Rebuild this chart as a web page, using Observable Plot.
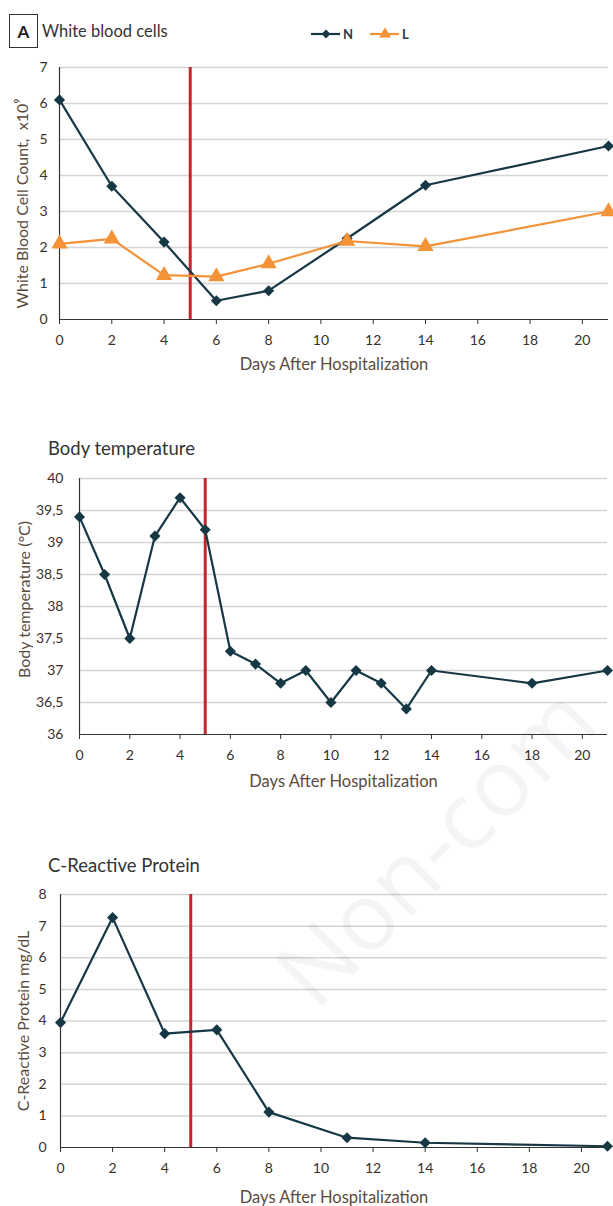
<!DOCTYPE html>
<html><head><meta charset="utf-8">
<script src="https://cdn.jsdelivr.net/npm/d3@7"></script>
<script src="https://cdn.jsdelivr.net/npm/@observablehq/plot@0.6"></script>
<style>
body{margin:0;background:#fff;font-family:Lato,"Open Sans",sans-serif;}
#page{position:relative;width:613px;height:1206px;overflow:hidden;background:#fff;}
.abs{position:absolute;}
.title{color:#333;font-size:18.5px;white-space:nowrap;line-height:1;}
#boxA{left:9px;top:14px;width:27px;height:32px;border:1.5px solid #333;font-weight:bold;font-size:17px;display:flex;align-items:center;justify-content:center;color:#222;}
#wm{left:0;top:0;pointer-events:none;}
</style></head>
<body><div id="page">
<div id="boxA" class="abs">A</div>
<div class="abs title" style="left:42px;top:23px;font-size:16.5px;">White blood cells</div>
<svg class="abs" id="legend" style="left:300px;top:22px;" width="120" height="24"></svg>
<div id="pA" class="abs" style="left:0;top:50px;"></div>
<div class="abs title" style="left:48px;top:439px;">Body temperature</div>
<div id="pB" class="abs" style="left:0;top:460px;"></div>
<div class="abs title" style="left:48px;top:856px;">C-Reactive Protein</div>
<div id="pC" class="abs" style="left:0;top:880px;"></div>
<svg id="wm" class="abs" width="613" height="1206">
  <text x="0" y="0" transform="translate(316,1012) rotate(-45)" font-family="Open Sans" font-size="94" fill="#000" fill-opacity="0.045">Non-com</text>
</svg>
</div>
<script>
// ---- data ----
const wbcDays = [0, 2, 4, 6, 8, 11, 14, 21];
const neutrophils = [6.1, 3.7, 2.15, 0.52, 0.8, 2.25, 3.73, 4.82];
const lymphocytes = [2.1, 2.24, 1.23, 1.19, 1.55, 2.18, 2.03, 3.0];
const tempDays = [0, 1, 2, 3, 4, 5, 6, 7, 8, 9, 10, 11, 12, 13, 14, 18, 21];
const temperature = [39.4, 38.5, 37.5, 39.1, 39.7, 39.2, 37.3, 37.1, 36.8, 37.0, 36.5, 37.0, 36.8, 36.4, 37.0, 36.8, 37.0];
const crpDays = [0, 2, 4, 6, 8, 11, 14, 21];
const crp = [3.95, 7.27, 3.6, 3.72, 1.12, 0.31, 0.15, 0.04];
const dayTicks = [0, 2, 4, 6, 8, 10, 12, 14, 16, 18, 20];
const wbcTicks = [0, 1, 2, 3, 4, 5, 6, 7];
const tempTicks = [36, 36.5, 37, 37.5, 38, 38.5, 39, 39.5, 40];
const crpTicks = [0, 1, 2, 3, 4, 5, 6, 7, 8];
const treatmentDay = [5];
const seriesNames = ["N", "L"];

const dark = "#163845", orange = "#f39237", red = "#c1272d";
const tickColor = "#3a302a", labelColor = "#5b4b3e";
const xLabel = "Days After Hospitalization";

const N = wbcDays.map((d, i) => ({day: d, v: neutrophils[i]}));
const L = wbcDays.map((d, i) => ({day: d, v: lymphocytes[i]}));
const T = tempDays.map((d, i) => ({day: d, v: temperature[i]}));
const C = crpDays.map((d, i) => ({day: d, v: crp[i]}));

function panel({height, mt, mb, ml, mr, yDomain, yTicks, yFmt, yLabel, yLabelOffset, yLabelShift, yPad, xLabelOffset, series}) {
  const marks = [
    Plot.gridY(yTicks.slice(1), {stroke: "#d4d4d4", strokeOpacity: 1, strokeWidth: 1.5}),
    Plot.axisY({ticks: yTicks, tickSize: 0, tickPadding: yPad, tickFormat: yFmt, fill: tickColor, fontSize: 14,
      label: null}),
    Plot.axisX({ticks: dayTicks, tickSize: 5, tickPadding: 11, fill: tickColor, fontSize: 14, stroke: "#333",
      label: null}),
    Plot.text([yLabel], {frameAnchor: "left", textAnchor: "middle", dx: -yLabelOffset, dy: yLabelShift, rotate: -90, fill: labelColor, fontSize: 16, text: d => d}),
    Plot.text([xLabel], {frameAnchor: "bottom", textAnchor: "middle", dy: xLabelOffset, fill: labelColor, fontSize: 16.5, text: d => d}),
    Plot.ruleX([0], {stroke: "#333", strokeWidth: 1.2}),
    Plot.ruleY([yDomain[0]], {stroke: "#333", strokeWidth: 1.2}),
    Plot.ruleX(treatmentDay, {y1: yDomain[0], y2: yDomain[1], stroke: red, strokeWidth: 3})
  ];
  for (const s of series) {
    marks.push(Plot.line(s.data, {x: "day", y: "v", stroke: s.color, strokeWidth: 2.2}));
    marks.push(Plot.dot(s.data, {x: "day", y: "v", symbol: s.symbol, fill: s.color, r: s.r, stroke: "none"}));
  }
  return Plot.plot({
    width: 613, height, marginTop: mt, marginBottom: mb, marginLeft: ml, marginRight: mr,
    x: {domain: [0, 21]}, y: {domain: yDomain},
    style: {fontFamily: "Lato, 'Open Sans', sans-serif", background: "transparent", overflow: "visible"},
    marks
  });
}

document.getElementById("pA").append(panel({
  height: 330, mt: 17, mb: 61, ml: 59, mr: 5, yDomain: [0, 7], yTicks: wbcTicks, yFmt: d => d,
  yLabel: "White Blood Cell Count,  x10⁹", yLabelOffset: 37, yLabelShift: 10, yPad: 12, xLabelOffset: 50,
  series: [{data: N, color: dark, symbol: "diamond2", r: 5}, {data: L, color: orange, symbol: "triangle", r: 6}]
}));
document.getElementById("pB").append(panel({
  height: 340, mt: 18, mb: 66, ml: 79, mr: 6, yDomain: [36, 40], yTicks: tempTicks, yFmt: d => String(d).replace(".", ","),
  yLabel: "Body temperature (°C)", yLabelOffset: 55, yLabelShift: -7, yPad: 16, xLabelOffset: 52,
  series: [{data: T, color: dark, symbol: "diamond2", r: 5}]
}));
document.getElementById("pC").append(panel({
  height: 326, mt: 14, mb: 59, ml: 60, mr: 6, yDomain: [0, 8], yTicks: crpTicks, yFmt: d => d,
  yLabel: "C-Reactive Protein mg/dL", yLabelOffset: 37, yLabelShift: 0, yPad: 14, xLabelOffset: 55,
  series: [{data: C, color: dark, symbol: "diamond2", r: 5}]
}));

// legend
const lg = d3.select("#legend");
const legendItems = [{name: seriesNames[0], color: dark, sym: d3.symbolDiamond2, size: 50, x: 11},
                     {name: seriesNames[1], color: orange, sym: d3.symbolTriangle, size: 60, x: 70}];
for (const it of legendItems) {
  lg.append("line").attr("x1", it.x).attr("x2", it.x + 29).attr("y1", 12).attr("y2", 12)
    .attr("stroke", it.color).attr("stroke-width", 2.2);
  lg.append("path").attr("d", d3.symbol(it.sym, it.size)()).attr("transform", `translate(${it.x + 15},12)`).attr("fill", it.color);
  lg.append("text").attr("x", it.x + 32).attr("y", 17).attr("font-size", 13).attr("font-weight", "bold")
    .attr("fill", "#2a3a45").attr("font-family", "Lato, sans-serif").text(it.name);
}
</script>
</body></html>
